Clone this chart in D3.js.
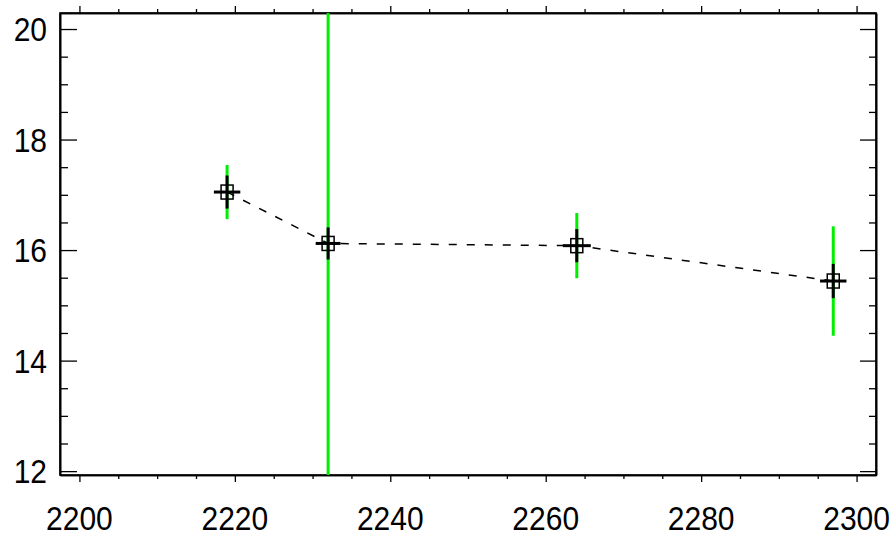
<!DOCTYPE html>
<html>
<head>
<meta charset="utf-8">
<script src="https://cdn.jsdelivr.net/npm/d3@7"></script>
<style>
  html, body { margin: 0; padding: 0; background: #fff; }
  svg { display: block; }
  .lbl { font-family: "Liberation Sans", Arial, Helvetica, sans-serif; font-size: 30px; fill: #000; }
</style>
</head>
<body>
<svg id="chart" width="896" height="538"></svg>
<script>
// Measurements: wavelength position and value with two kinds of uncertainty
const xValues   = [2219, 2232, 2264, 2297];
const yValues   = [17.05, 16.12, 16.08, 15.44];
const errTotal  = [0.49, 5.0, 0.59, 0.99];   // green bars
const errStat   = [0.30, 0.29, 0.30, 0.31];  // black vertical bars
const errX      = [1.7, 1.6, 1.8, 1.7];      // black horizontal bars

const xTickLabels = [2200, 2220, 2240, 2260, 2280, 2300];
const yTickLabels = [12, 14, 16, 18, 20];

const W = 896, H = 538;
const m = { left: 60, right: 20, top: 13, bottom: 63 };
const svg = d3.select("#chart");

const x = d3.scaleLinear().domain([2197.5, 2302.5]).range([m.left, W - m.right]);
const y = d3.scaleLinear().domain([11.93, 20.29]).range([H - m.bottom, m.top]);

const x0 = m.left, x1 = W - m.right, y0 = H - m.bottom, y1 = m.top;

svg.append("defs").append("clipPath").attr("id", "plotClip")
  .append("rect").attr("x", x0).attr("y", y1).attr("width", x1 - x0).attr("height", y0 - y1);

// Axes: bottom/top with minor ticks every 5, left/right with minor ticks every 0.5
const xMinor = d3.range(2200, 2301, 5).filter(v => v % 20 !== 0);
const yMinor = d3.range(12, 20.01, 0.5).filter(v => v % 2 !== 0);

function axisGroup(axis, tx, ty) {
  const g = svg.append("g").attr("transform", `translate(${tx},${ty})`).call(axis);
  g.selectAll("text").remove();
  g.select(".domain").attr("stroke", "#000").attr("stroke-width", 1.6);
  g.selectAll(".tick line").attr("stroke", "#000").attr("stroke-width", 1.3);
  return g;
}
// major ticks
axisGroup(d3.axisTop(x).tickValues(xTickLabels).tickSizeInner(-7).tickSizeOuter(0), 0, y0);
axisGroup(d3.axisBottom(x).tickValues(xTickLabels).tickSizeInner(-7).tickSizeOuter(0), 0, y1);
axisGroup(d3.axisRight(y).tickValues(yTickLabels).tickSizeInner(17).tickSizeOuter(0), x0, 0);
axisGroup(d3.axisLeft(y).tickValues(yTickLabels).tickSizeInner(16).tickSizeOuter(0), x1, 0);
// minor ticks
axisGroup(d3.axisTop(x).tickValues(xMinor).tickSizeInner(-4).tickSizeOuter(0), 0, y0);
axisGroup(d3.axisBottom(x).tickValues(xMinor).tickSizeInner(-4).tickSizeOuter(0), 0, y1);
axisGroup(d3.axisRight(y).tickValues(yMinor).tickSizeInner(8).tickSizeOuter(0), x0, 0);
axisGroup(d3.axisLeft(y).tickValues(yMinor).tickSizeInner(7).tickSizeOuter(0), x1, 0);

// frame
svg.append("rect").attr("x", x0).attr("y", y1).attr("width", x1 - x0).attr("height", y0 - y1)
  .attr("fill", "none").attr("stroke", "#000").attr("stroke-width", 1.6);

// tick labels (slightly tall glyphs)
const sy = 1.13;
svg.append("g").selectAll("text").data(xTickLabels).join("text")
  .attr("class", "lbl").attr("text-anchor", "middle")
  .attr("transform", d => `translate(${x(d)},${530}) scale(1,${sy})`)
  .text(d => d);
svg.append("g").selectAll("text").data(yTickLabels).join("text")
  .attr("class", "lbl").attr("text-anchor", "end")
  .attr("transform", d => `translate(${47},${y(d) + 12}) scale(1,${sy})`)
  .text(d => d);

const pts = xValues.map((v, i) => ({ x: v, y: yValues[i], et: errTotal[i], es: errStat[i], ex: errX[i] }));
const plot = svg.append("g").attr("clip-path", "url(#plotClip)");

// green total-uncertainty bars
plot.selectAll("line.tot").data(pts).join("line").attr("class", "tot")
  .attr("x1", d => x(d.x)).attr("x2", d => x(d.x))
  .attr("y1", d => y(d.y - d.et)).attr("y2", d => y(d.y + d.et))
  .attr("stroke", "#00ee00").attr("stroke-width", 3);

// dashed connecting line
plot.append("path").datum(pts)
  .attr("d", d3.line().x(d => x(d.x)).y(d => y(d.y)))
  .attr("fill", "none").attr("stroke", "#000").attr("stroke-width", 1.5)
  .attr("stroke-dasharray", "8,10");

// black statistical bars
plot.selectAll("line.stat").data(pts).join("line").attr("class", "stat")
  .attr("x1", d => x(d.x)).attr("x2", d => x(d.x))
  .attr("y1", d => y(d.y - d.es)).attr("y2", d => y(d.y + d.es))
  .attr("stroke", "#000").attr("stroke-width", 3);
plot.selectAll("line.hx").data(pts).join("line").attr("class", "hx")
  .attr("x1", d => x(d.x - d.ex)).attr("x2", d => x(d.x + d.ex))
  .attr("y1", d => y(d.y)).attr("y2", d => y(d.y))
  .attr("stroke", "#000").attr("stroke-width", 3);

// open square markers
const bw = 12, bh = 14;
plot.selectAll("rect.mk").data(pts).join("rect").attr("class", "mk")
  .attr("x", d => x(d.x) - bw / 2).attr("y", d => y(d.y) - bh / 2)
  .attr("width", bw).attr("height", bh)
  .attr("fill", "none").attr("stroke", "#000").attr("stroke-width", 1.5);
</script>
</body>
</html>
